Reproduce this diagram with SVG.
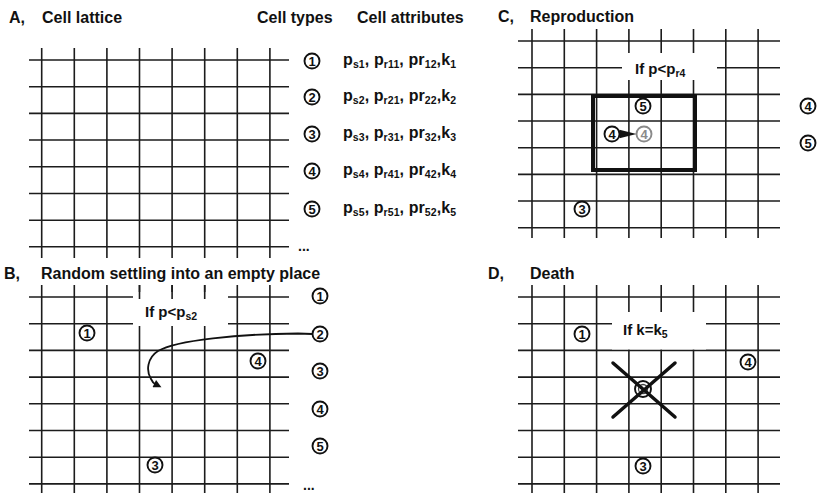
<svg xmlns="http://www.w3.org/2000/svg" width="818" height="493" viewBox="0 0 818 493">
<style>
.grid{fill:none;stroke:#1c1c1c;stroke-width:1.6}
.c{fill:#fff;stroke:#111;stroke-width:1.9}
.cg{fill:#fff;stroke:#8a8a8a;stroke-width:1.9}
.n{font-family:"Liberation Sans",Arial,sans-serif;font-weight:bold;font-size:13px;fill:#111;text-anchor:middle}
.ng{font-family:"Liberation Sans",Arial,sans-serif;font-weight:bold;font-size:13px;fill:#8a8a8a;text-anchor:middle}
.t{font-family:"Liberation Sans",Arial,sans-serif;font-weight:bold;font-size:16px;fill:#111}
.a{font-family:"Liberation Sans",Arial,sans-serif;font-weight:bold;font-size:16px;fill:#111}
.s{font-size:10.5px}
.lbl{font-family:"Liberation Sans",Arial,sans-serif;font-weight:bold;font-size:15px;fill:#111}
.conn{fill:none;stroke:#111;stroke-width:1.8}
</style>
<defs>
<marker id="ah" viewBox="0 0 10 10" refX="1" refY="5" markerUnits="userSpaceOnUse" markerWidth="10" markerHeight="8" orient="auto">
<path d="M0,0 L10,5 L0,10 z" fill="#111"/>
</marker>
</defs>
<rect width="818" height="493" fill="#fff"/>

<!-- Titles -->
<text class="t" x="9" y="23">A,</text>
<text class="t" x="42" y="23">Cell lattice</text>
<text class="t" x="257" y="23">Cell types</text>
<text class="t" x="357" y="23">Cell attributes</text>
<text class="t" x="4" y="279">B,</text>
<text class="t" x="41" y="279">Random settling into an empty place</text>
<text class="t" x="498" y="22">C,</text>
<text class="t" x="530" y="22">Reproduction</text>
<text class="t" x="488" y="279">D,</text>
<text class="t" x="530" y="279">Death</text>

<!-- Grid A -->
<g id="gridA">
<path class="grid" d="M29 60H289M29 86.7H289M29 113.4H289M29 140H289M29 166.8H289M29 193.5H289M29 220.2H289M29 246.8H289
M41.7 48V258M74.3 48V258M106.9 48V258M139.5 48V258M172.1 48V258M204.7 48V258M237.3 48V258M269.9 48V258"/>
</g>
<!-- Grid B -->
<g id="gridB">
<path class="grid" d="M29 297H289M29 323.7H289M29 350.4H289M29 377.1H289M29 403.8H289M29 430.5H289M29 457.2H289M29 483.9H289
M41.7 285V493M74.3 285V493M106.9 285V493M139.5 285V493M172.1 285V493M204.7 285V493M237.3 285V493M269.9 285V493"/>
<rect x="133" y="292" width="95" height="34" fill="#fff"/>
<path class="grid" d="M139.5 285V299M172.1 285V299M204.7 285V299"/>
</g>
<!-- Grid C -->
<g id="gridC">
<path class="grid" d="M518 41H780M518 67.7H780M518 94.4H780M518 121H780M518 147.7H780M518 174.4H780M518 201H780M518 227.7H780
M532 29V238M564.3 29V238M596.6 29V238M628.9 29V238M661.2 29V238M693.5 29V238M725.8 29V238M758.1 29V238"/>
<rect x="622" y="53" width="95" height="27" fill="#fff"/>
</g>
<!-- Grid D -->
<g id="gridD">
<path class="grid" d="M518 297H780M518 323.7H780M518 350.4H780M518 377.1H780M518 403.8H780M518 430.5H780M518 457.2H780M518 483.9H780
M532 285V493M564.3 285V493M596.6 285V493M628.9 285V493M661.2 285V493M693.5 285V493M725.8 285V493M758.1 285V493"/>
<rect x="612" y="312" width="94" height="37.5" fill="#fff"/>
</g>

<!-- Panel A: cell types and attributes -->
<g id="typeA1"><circle class="c" cx="312" cy="61" r="7.5"/><text class="n" x="312" y="65.7">1</text></g>
<g id="typeA2"><circle class="c" cx="312" cy="97" r="7.5"/><text class="n" x="312" y="101.7">2</text></g>
<g id="typeA3"><circle class="c" cx="312" cy="134" r="7.5"/><text class="n" x="312" y="138.7">3</text></g>
<g id="typeA4"><circle class="c" cx="312" cy="171" r="7.5"/><text class="n" x="312" y="175.7">4</text></g>
<g id="typeA5"><circle class="c" cx="312" cy="209" r="7.5"/><text class="n" x="312" y="213.7">5</text></g>

<text class="a" x="343" y="65" textLength="113" lengthAdjust="spacing">p<tspan class="s" dy="3">s1</tspan><tspan dy="-3">, p</tspan><tspan class="s" dy="3">r11</tspan><tspan dy="-3">, pr</tspan><tspan class="s" dy="3">12</tspan><tspan dy="-3">,k</tspan><tspan class="s" dy="3">1</tspan></text>
<text class="a" x="343" y="101" textLength="113" lengthAdjust="spacing">p<tspan class="s" dy="3">s2</tspan><tspan dy="-3">, p</tspan><tspan class="s" dy="3">r21</tspan><tspan dy="-3">, pr</tspan><tspan class="s" dy="3">22</tspan><tspan dy="-3">,k</tspan><tspan class="s" dy="3">2</tspan></text>
<text class="a" x="343" y="138" textLength="113" lengthAdjust="spacing">p<tspan class="s" dy="3">s3</tspan><tspan dy="-3">, p</tspan><tspan class="s" dy="3">r31</tspan><tspan dy="-3">, pr</tspan><tspan class="s" dy="3">32</tspan><tspan dy="-3">,k</tspan><tspan class="s" dy="3">3</tspan></text>
<text class="a" x="343" y="175" textLength="113" lengthAdjust="spacing">p<tspan class="s" dy="3">s4</tspan><tspan dy="-3">, p</tspan><tspan class="s" dy="3">r41</tspan><tspan dy="-3">, pr</tspan><tspan class="s" dy="3">42</tspan><tspan dy="-3">,k</tspan><tspan class="s" dy="3">4</tspan></text>
<text class="a" x="343" y="213" textLength="113" lengthAdjust="spacing">p<tspan class="s" dy="3">s5</tspan><tspan dy="-3">, p</tspan><tspan class="s" dy="3">r51</tspan><tspan dy="-3">, pr</tspan><tspan class="s" dy="3">52</tspan><tspan dy="-3">,k</tspan><tspan class="s" dy="3">5</tspan></text>
<text class="a" x="298" y="251" style="font-size:14px">...</text>

<!-- Panel B -->
<text class="lbl" x="145" y="317">If p&lt;p<tspan class="s" dy="3">s2</tspan></text>
<g id="b1"><circle class="c" cx="87" cy="333" r="7.5"/><text class="n" x="87" y="337.7">1</text></g>
<g id="b4"><circle class="c" cx="258" cy="361" r="7.5"/><text class="n" x="258" y="365.7">4</text></g>
<g id="b3"><circle class="c" cx="155" cy="465" r="7.5"/><text class="n" x="155" y="469.7">3</text></g>
<g id="bt1"><circle class="c" cx="320" cy="296" r="7.5"/><text class="n" x="320" y="300.7">1</text></g>
<g id="bt2"><circle class="c" cx="320" cy="334" r="7.5"/><text class="n" x="320" y="338.7">2</text></g>
<g id="bt3"><circle class="c" cx="320" cy="371" r="7.5"/><text class="n" x="320" y="375.7">3</text></g>
<g id="bt4"><circle class="c" cx="320" cy="409" r="7.5"/><text class="n" x="320" y="413.7">4</text></g>
<g id="bt5"><circle class="c" cx="320" cy="446" r="7.5"/><text class="n" x="320" y="450.7">5</text></g>
<text class="a" x="303" y="490" style="font-size:14px">...</text>

<!-- Panel C -->
<text class="lbl" x="635" y="74">If p&lt;p<tspan class="s" dy="3">r4</tspan></text>
<rect x="593" y="96" width="102" height="74" fill="none" stroke="#111" stroke-width="4"/>
<g id="c5"><circle class="c" cx="643" cy="106" r="7.5"/><text class="n" x="643" y="110.7">5</text></g>
<g id="c4"><circle class="c" cx="612" cy="134" r="7.5"/><text class="n" x="612" y="138.7">4</text></g>
<g id="c4new"><circle class="cg" cx="644" cy="134" r="7.5"/><text class="ng" x="644" y="138.7">4</text></g>
<g id="c3"><circle class="c" cx="582" cy="209" r="7.5"/><text class="n" x="582" y="213.7">3</text></g>
<g id="cr4"><circle class="c" cx="808" cy="106" r="7.5"/><text class="n" x="808" y="110.7">4</text></g>
<g id="cr5"><circle class="c" cx="808" cy="143" r="7.5"/><text class="n" x="808" y="147.7">5</text></g>

<!-- Panel D -->
<text class="lbl" x="623" y="335">If k=k<tspan class="s" dy="3">5</tspan></text>
<g id="d1"><circle class="c" cx="582" cy="334" r="7.5"/><text class="n" x="582" y="338.7">1</text></g>
<g id="d4"><circle class="c" cx="748" cy="362" r="7.5"/><text class="n" x="748" y="366.7">4</text></g>
<g id="d3"><circle class="c" cx="643" cy="466" r="7.5"/><text class="n" x="643" y="470.7">3</text></g>
<g id="d5dead">
<circle class="c" cx="643" cy="389" r="8"/>
<circle cx="643" cy="389" r="4.5" fill="none" stroke="#444" stroke-width="1.3"/>
<path d="M613 363L675 417M613 417L675 363" fill="none" stroke="#111" stroke-width="3.5" stroke-linecap="round"/>
</g>

<!-- Connectors -->
<g id="connectors">
<path class="conn" d="M312 334 L298 333.5 C240 334 176 340 158 351 C147 358 146 371 151 379 C152 381 153 383 155 384" marker-end="url(#ah)"/>
<polygon points="619.5,129.8 619.5,138.2 636.5,134" fill="#111"/>
</g>
</svg>
